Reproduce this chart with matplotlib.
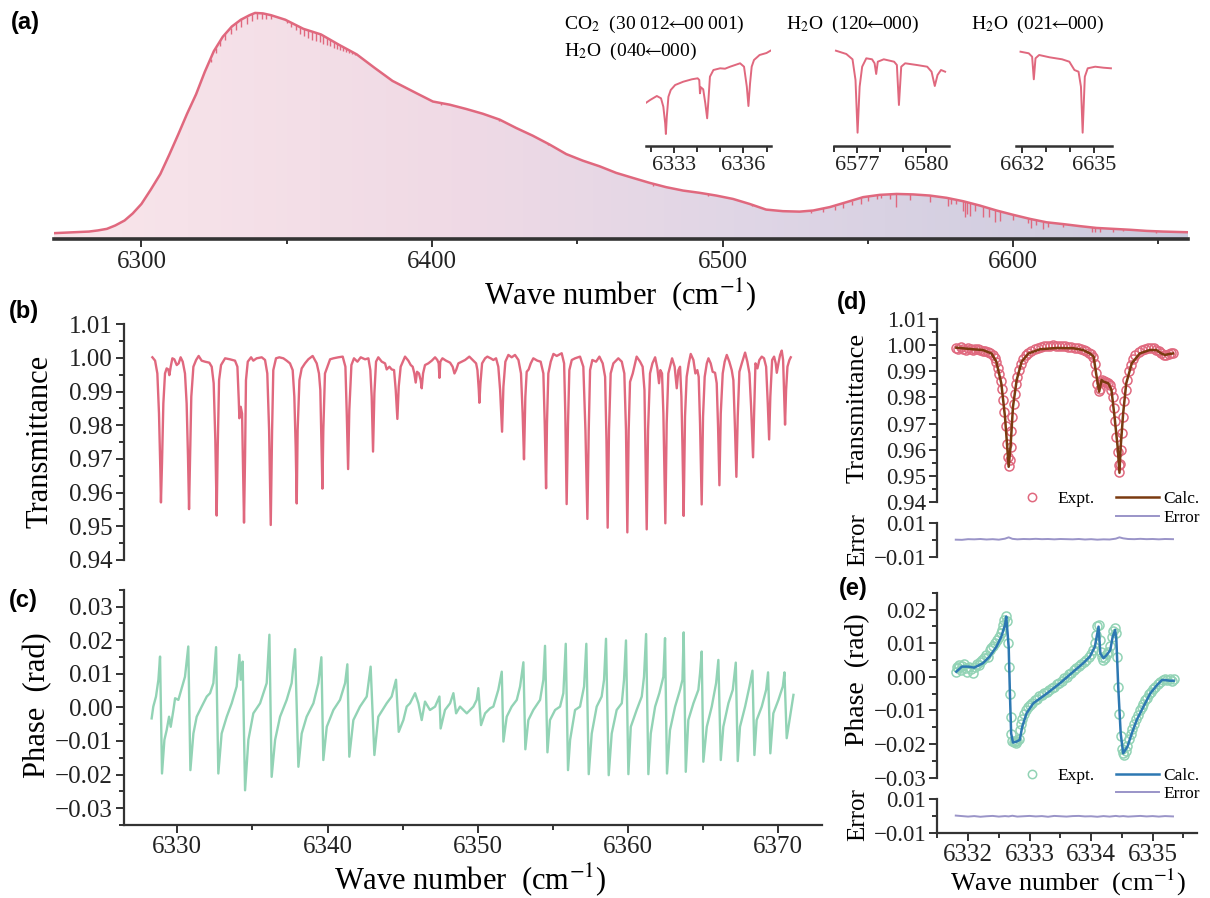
import numpy as np
import matplotlib
matplotlib.use('Agg')
import matplotlib.pyplot as plt
from matplotlib.colors import LinearSegmentedColormap
from matplotlib.ticker import MultipleLocator, FuncFormatter, FixedLocator
from matplotlib.lines import Line2D

plt.rcParams['font.family'] = ['Liberation Serif', 'DejaVu Serif']
plt.rcParams['mathtext.fontset'] = 'stix'

# ---------------- data : panel (a) envelope (arb. units) ----------------
a_env_nu = [6269.9, 6281.9, 6285.0, 6288.1, 6291.0, 6294.2, 6297.0, 6300.0, 6303.2, 6306.5,
            6309.6, 6312.7, 6315.7, 6318.8, 6321.8, 6324.9, 6328.0, 6331.1, 6334.2, 6337.2,
            6339.1, 6341.8, 6344.6, 6349.5, 6355.7, 6361.8, 6367.9, 6374.1, 6380.2, 6386.4,
            6394.6, 6400.3, 6406.1, 6411.8, 6417.5, 6423.3, 6429.0, 6434.7, 6440.5, 6446.2,
            6451.9, 6457.7, 6463.4, 6469.1, 6474.9, 6480.6, 6486.4, 6492.1, 6497.8, 6503.6,
            6509.3, 6515.0, 6520.8, 6526.5, 6531.2, 6536.9, 6542.7, 6548.4, 6554.1, 6559.9,
            6565.6, 6571.3, 6577.1, 6582.8, 6588.5, 6594.3, 6600.0, 6605.8, 6611.5, 6617.2,
            6623.0, 6628.7, 6634.4, 6640.2, 6645.9, 6651.6, 6660.2]
a_env = [0.028, 0.035, 0.040, 0.047, 0.062, 0.084, 0.115, 0.157, 0.220, 0.289,
         0.375, 0.465, 0.555, 0.641, 0.740, 0.831, 0.895, 0.940, 0.970, 0.990,
         1.000, 0.998, 0.990, 0.970, 0.930, 0.905, 0.860, 0.817, 0.758, 0.700,
         0.646, 0.609, 0.595, 0.576, 0.555, 0.529, 0.492, 0.458, 0.419, 0.377,
         0.348, 0.323, 0.294, 0.272, 0.250, 0.231, 0.216, 0.206, 0.194, 0.179,
         0.157, 0.132, 0.125, 0.123, 0.128, 0.143, 0.165, 0.187, 0.197, 0.201,
         0.199, 0.194, 0.184, 0.169, 0.150, 0.128, 0.109, 0.091, 0.076, 0.068,
         0.059, 0.051, 0.047, 0.043, 0.038, 0.035, 0.032]
a_line_nu = [6323.8, 6325.5, 6327.2, 6328.9, 6330.8, 6332.6, 6334.4, 6336.2, 6338.0, 6339.7,
             6341.4, 6343.0, 6344.7, 6350.1, 6351.6, 6353.1, 6354.6, 6355.9, 6357.3, 6358.7,
             6360.0, 6361.3, 6362.5, 6363.7, 6364.9, 6366.1, 6367.2, 6368.3, 6369.4, 6370.5,
             6371.5, 6372.5, 6373.5, 6403.0, 6423.0, 6440.0, 6476.0, 6495.0, 6510.0,
             6530.6, 6534.6, 6538.6, 6541.5, 6544.4, 6547.8, 6550.1, 6553.0, 6554.7, 6557.6,
             6559.6, 6564.5, 6571.3, 6577.6, 6578.8, 6580.5, 6582.6, 6583.4, 6584.2, 6585.1,
             6586.8, 6589.7, 6591.7, 6593.7, 6595.4, 6600.0, 6605.2, 6606.3, 6608.0, 6610.3,
             6612.1, 6617.2, 6627.0, 6628.1, 6629.8, 6634.4, 6637.9, 6649.3]
a_line_depth = [0.015, 0.020, 0.025, 0.028, 0.030, 0.032, 0.033, 0.033, 0.030, 0.027,
                0.024, 0.020, 0.016, 0.012, 0.018, 0.024, 0.028, 0.031, 0.034, 0.036,
                0.037, 0.036, 0.035, 0.033, 0.030, 0.027, 0.024, 0.020, 0.017, 0.014,
                0.011, 0.009, 0.007, 0.008, 0.008, 0.007, 0.008, 0.007, 0.008,
                0.012, 0.015, 0.018, 0.022, 0.018, 0.030, 0.022, 0.018, 0.015, 0.022,
                0.059, 0.026, 0.030, 0.037, 0.022, 0.018, 0.044, 0.066, 0.051, 0.059,
                0.030, 0.044, 0.037, 0.051, 0.044, 0.022, 0.022, 0.037, 0.022, 0.032,
                0.018, 0.012, 0.022, 0.018, 0.018, 0.015, 0.009, 0.009]

# insets (arb. units)
in1_nu = [6331.81, 6331.98, 6332.27, 6332.45, 6332.55, 6332.63, 6332.66, 6332.70, 6332.77, 6332.87,
          6333.06, 6333.41, 6333.78, 6334.03, 6334.10, 6334.13, 6334.17, 6334.27, 6334.36, 6334.44,
          6334.49, 6334.56, 6334.71, 6335.00, 6335.21, 6335.43, 6335.86, 6336.03, 6336.15, 6336.22,
          6336.29, 6336.36, 6336.46, 6336.70, 6337.00, 6337.17]
in1_s = [0.433, 0.460, 0.500, 0.477, 0.393, 0.227, 0.120, 0.293, 0.493, 0.560,
         0.610, 0.643, 0.667, 0.677, 0.660, 0.527, 0.587, 0.567, 0.427, 0.277,
         0.443, 0.693, 0.760, 0.777, 0.773, 0.793, 0.827, 0.793, 0.593, 0.400,
         0.627, 0.793, 0.860, 0.910, 0.930, 0.953]
in2_nu = [6576.08, 6576.53, 6576.80, 6576.93, 6577.02, 6577.11, 6577.22, 6577.40, 6577.65, 6577.76,
          6577.83, 6577.90, 6578.16, 6578.61, 6578.73, 6578.82, 6578.92, 6579.09, 6579.60, 6580.05,
          6580.24, 6580.38, 6580.50, 6580.65, 6580.83]
in2_s = [0.953, 0.920, 0.867, 0.660, 0.133, 0.593, 0.793, 0.877, 0.867, 0.827,
         0.720, 0.843, 0.867, 0.843, 0.810, 0.410, 0.793, 0.827, 0.810, 0.793,
         0.743, 0.600, 0.710, 0.760, 0.743]
in3_nu = [6631.95, 6632.29, 6632.43, 6632.50, 6632.57, 6632.72, 6633.15, 6633.67, 6633.97, 6634.18,
          6634.35, 6634.45, 6634.52, 6634.61, 6634.73, 6635.04, 6635.38, 6635.69]
in3_s = [0.943, 0.927, 0.893, 0.667, 0.877, 0.910, 0.887, 0.867, 0.843, 0.760,
         0.743, 0.593, 0.133, 0.693, 0.777, 0.793, 0.783, 0.777]
ARW = r'$\!\!\leftarrow\!\!$'
inset_titles = [r'CO$_2$  (30 012' + ARW + '00 001)', r'H$_2$O  (040' + ARW + '000)',
                r'H$_2$O  (120' + ARW + '000)', r'H$_2$O  (021' + ARW + '000)']

# ---------------- panel (b) transmittance ----------------
b_nu = [6328.34, 6328.52, 6328.67, 6328.78, 6328.87, 6328.91, 6328.98, 6329.07, 6329.18, 6329.29,
        6329.40, 6329.47, 6329.56, 6329.67, 6329.80, 6329.96, 6330.09, 6330.22, 6330.36, 6330.51,
        6330.62, 6330.71, 6330.78, 6330.85, 6330.93, 6331.07, 6331.25, 6331.42, 6331.62, 6331.84,
        6332.13, 6332.29, 6332.42, 6332.53, 6332.62, 6332.69, 6332.78, 6332.91, 6333.18, 6333.51,
        6333.84, 6334.00, 6334.09, 6334.13, 6334.22, 6334.31, 6334.37, 6334.44, 6334.51, 6334.57,
        6334.69, 6334.91, 6335.06, 6335.28, 6335.62, 6335.84, 6335.99, 6336.11, 6336.22, 6336.31,
        6336.39, 6336.57, 6336.79, 6337.06, 6337.28, 6337.50, 6337.68, 6337.79, 6337.88, 6337.95,
        6338.01, 6338.13, 6338.28, 6338.50, 6338.72, 6339.01, 6339.28, 6339.43, 6339.52, 6339.59,
        6339.66, 6339.72, 6339.83, 6339.99, 6340.17, 6340.39, 6340.72, 6341.01, 6341.19, 6341.28,
        6341.37, 6341.45, 6341.59, 6341.76, 6341.99, 6342.21, 6342.50, 6342.72, 6342.85, 6342.94,
        6343.03, 6343.12, 6343.23, 6343.38, 6343.61, 6343.83, 6343.94, 6344.12, 6344.27, 6344.43,
        6344.54, 6344.65, 6344.74, 6344.87, 6345.16, 6345.38, 6345.54, 6345.67, 6345.78, 6345.87,
        6345.96, 6346.09, 6346.20, 6346.27, 6346.36, 6346.49, 6346.71, 6346.94, 6347.16, 6347.31,
        6347.40, 6347.45, 6347.51, 6347.65, 6347.89, 6348.16, 6348.33, 6348.45, 6348.56, 6348.71,
        6348.93, 6349.16, 6349.44, 6349.67, 6349.89, 6349.98, 6350.07, 6350.11, 6350.18, 6350.29,
        6350.49, 6350.64, 6350.86, 6351.04, 6351.22, 6351.37, 6351.49, 6351.62, 6351.71, 6351.84,
        6352.04, 6352.26, 6352.48, 6352.71, 6352.88, 6352.99, 6353.08, 6353.17, 6353.26, 6353.39,
        6353.53, 6353.70, 6353.97, 6354.19, 6354.37, 6354.46, 6354.55, 6354.61, 6354.70, 6354.86,
        6355.04, 6355.26, 6355.59, 6355.75, 6355.83, 6355.92, 6356.01, 6356.10, 6356.26, 6356.48,
        6356.81, 6357.03, 6357.17, 6357.30, 6357.39, 6357.48, 6357.63, 6357.88, 6358.10, 6358.32,
        6358.48, 6358.57, 6358.65, 6358.74, 6358.85, 6359.03, 6359.36, 6359.59, 6359.76, 6359.87,
        6359.96, 6360.05, 6360.14, 6360.32, 6360.58, 6360.81, 6360.98, 6361.10, 6361.16, 6361.25,
        6361.34, 6361.47, 6361.63, 6361.81, 6361.96, 6362.07, 6362.16, 6362.27, 6362.36, 6362.49,
        6362.58, 6362.69, 6362.94, 6363.11, 6363.25, 6363.36, 6363.47, 6363.56, 6363.63, 6363.71,
        6363.80, 6363.91, 6364.05, 6364.18, 6364.36, 6364.49, 6364.62, 6364.71, 6364.80, 6364.91,
        6365.00, 6365.11, 6365.25, 6365.36, 6365.51, 6365.64, 6365.80, 6365.91, 6366.00, 6366.09,
        6366.18, 6366.31, 6366.44, 6366.58, 6366.75, 6366.91, 6367.02, 6367.13, 6367.22, 6367.31,
        6367.42, 6367.58, 6367.80, 6367.95, 6368.09, 6368.20, 6368.26, 6368.33, 6368.40, 6368.49,
        6368.62, 6368.75, 6368.91, 6369.06, 6369.20, 6369.31, 6369.40, 6369.48, 6369.60, 6369.73,
        6369.84, 6369.91, 6370.02, 6370.13, 6370.24, 6370.33, 6370.39, 6370.46, 6370.53, 6370.62,
        6370.75, 6370.84]
b_T = [1.0002, 0.9992, 0.9954, 0.9835, 0.9667, 0.9571, 0.9687, 0.9865, 0.9954, 0.9969,
       0.9966, 0.9949, 0.9974, 0.9999, 0.9996, 0.9979, 0.9984, 1.0002, 0.9989, 0.9954,
       0.9865, 0.9707, 0.9551, 0.9707, 0.9885, 0.9974, 0.9994, 1.0006, 0.9992, 0.9989,
       0.9986, 0.9974, 0.9925, 0.9756, 0.9532, 0.9736, 0.9934, 0.9979, 0.9999, 0.9996,
       0.9992, 0.9974, 0.9875, 0.9821, 0.9855, 0.9835, 0.9687, 0.9511, 0.9707, 0.9934,
       0.9989, 1.0002, 0.9992, 0.9999, 1.0002, 0.9994, 0.9954, 0.9786, 0.9504, 0.9786,
       0.9964, 0.9999, 1.0002, 0.9999, 0.9992, 0.9984, 0.9964, 0.9885, 0.9736, 0.9568,
       0.9786, 0.9934, 0.9969, 0.9984, 0.9996, 1.0006, 0.9984, 0.9954, 0.9905, 0.9756,
       0.9612, 0.9786, 0.9954, 0.9974, 0.9996, 0.9999, 1.0002, 1.0004, 0.9974, 0.9835,
       0.9670, 0.9845, 0.9979, 0.9999, 0.9989, 1.0002, 0.9996, 0.9999, 0.9964, 0.9885,
       0.9722, 0.9895, 0.9989, 1.0002, 0.9989, 0.9984, 0.9966, 0.9974, 0.9966, 0.9964,
       0.9905, 0.9819, 0.9915, 0.9974, 1.0004, 0.9992, 0.9979, 0.9974, 0.9954, 0.9927,
       0.9959, 0.9954, 0.9934, 0.9910, 0.9954, 0.9979, 0.9984, 0.9992, 1.0002, 0.9994,
       0.9984, 0.9941, 0.9989, 0.9999, 0.9992, 0.9986, 0.9974, 0.9954, 0.9964, 0.9984,
       0.9989, 0.9994, 1.0004, 0.9994, 0.9984, 0.9964, 0.9905, 0.9867, 0.9925, 0.9984,
       0.9999, 1.0004, 0.9999, 0.9994, 0.9999, 0.9974, 0.9905, 0.9781, 0.9915, 0.9989,
       1.0009, 1.0002, 1.0009, 0.9994, 0.9954, 0.9835, 0.9699, 0.9885, 0.9959, 0.9966,
       0.9984, 0.9999, 0.9992, 0.9989, 0.9954, 0.9806, 0.9613, 0.9806, 0.9954, 0.9989,
       1.0012, 1.0006, 1.0014, 0.9984, 0.9835, 0.9566, 0.9806, 0.9964, 0.9994, 0.9999,
       1.0004, 0.9974, 0.9786, 0.9522, 0.9786, 0.9964, 0.9994, 0.9989, 1.0004, 0.9984,
       0.9944, 0.9756, 0.9496, 0.9786, 0.9954, 0.9984, 0.9999, 0.9989, 0.9954, 0.9786,
       0.9482, 0.9786, 0.9929, 0.9954, 1.0004, 0.9989, 0.9974, 0.9905, 0.9736, 0.9491,
       0.9786, 0.9954, 0.9984, 1.0002, 0.9969, 0.9925, 0.9964, 0.9954, 0.9835, 0.9509,
       0.9806, 0.9954, 0.9999, 0.9974, 0.9910, 0.9964, 0.9974, 0.9885, 0.9736, 0.9531,
       0.9826, 0.9944, 0.9984, 1.0012, 0.9994, 0.9954, 0.9964, 0.9944, 0.9806, 0.9565,
       0.9826, 0.9944, 0.9984, 0.9999, 0.9984, 0.9959, 0.9956, 0.9925, 0.9796, 0.9622,
       0.9835, 0.9954, 0.9989, 1.0009, 0.9989, 0.9964, 0.9934, 0.9786, 0.9647, 0.9826,
       0.9959, 0.9984, 1.0016, 0.9989, 0.9954, 0.9855, 0.9786, 0.9705, 0.9835, 0.9984,
       0.9969, 0.9994, 1.0004, 0.9999, 0.9974, 0.9865, 0.9758, 0.9885, 0.9994, 1.0004,
       0.9984, 0.9956, 0.9984, 1.0009, 1.0022, 0.9994, 0.9905, 0.9802, 0.9905, 0.9974,
       0.9994, 1.0002]

# ---------------- panel (c) phase ----------------
c_nu = [6328.29, 6328.40, 6328.58, 6328.74, 6328.85, 6328.98, 6329.14, 6329.29, 6329.45, 6329.56,
        6329.74, 6329.85, 6330.07, 6330.29, 6330.51, 6330.73, 6330.87, 6331.07, 6331.29, 6331.62,
        6331.96, 6332.18, 6332.40, 6332.58, 6332.73, 6332.95, 6333.29, 6333.62, 6333.95, 6334.13,
        6334.22, 6334.35, 6334.51, 6334.73, 6335.06, 6335.51, 6335.95, 6336.13, 6336.28, 6336.51,
        6336.84, 6337.28, 6337.61, 6337.84, 6338.06, 6338.28, 6338.61, 6339.06, 6339.39, 6339.59,
        6339.72, 6339.95, 6340.39, 6340.83, 6341.17, 6341.32, 6341.45, 6341.72, 6342.16, 6342.61,
        6342.87, 6343.12, 6343.38, 6343.94, 6344.27, 6344.56, 6344.74, 6345.05, 6345.27, 6345.49,
        6345.83, 6346.05, 6346.27, 6346.49, 6346.82, 6347.16, 6347.45, 6347.53, 6347.82, 6348.16,
        6348.38, 6348.56, 6348.82, 6349.27, 6349.71, 6349.93, 6350.04, 6350.22, 6350.49, 6350.82,
        6351.04, 6351.37, 6351.60, 6351.71, 6351.93, 6352.26, 6352.60, 6352.82, 6353.04, 6353.17,
        6353.37, 6353.70, 6354.15, 6354.37, 6354.48, 6354.64, 6354.81, 6355.15, 6355.48, 6355.70,
        6355.86, 6356.01, 6356.15, 6356.48, 6356.81, 6357.08, 6357.23, 6357.39, 6357.59, 6357.92,
        6358.25, 6358.41, 6358.54, 6358.72, 6358.92, 6359.25, 6359.59, 6359.74, 6359.87, 6360.03,
        6360.19, 6360.58, 6360.92, 6361.07, 6361.21, 6361.36, 6361.52, 6361.81, 6362.09, 6362.36,
        6362.47, 6362.60, 6362.80, 6363.14, 6363.47, 6363.63, 6363.71, 6363.85, 6364.02, 6364.36,
        6364.69, 6364.80, 6364.91, 6365.02, 6365.25, 6365.58, 6365.87, 6366.02, 6366.18, 6366.35,
        6366.69, 6366.98, 6367.18, 6367.31, 6367.46, 6367.80, 6368.09, 6368.29, 6368.42, 6368.57,
        6368.91, 6369.20, 6369.33, 6369.48, 6369.68, 6370.02, 6370.31, 6370.42, 6370.57, 6370.79,
        6371.02]
c_phi = [-0.0033, 0.0002, 0.0032, 0.0082, 0.0151, -0.0197, -0.0097, -0.0068, -0.0028, -0.0058,
         -0.0008, 0.0027, 0.0022, 0.0057, 0.0091, 0.0181, -0.0187, -0.0078, -0.0028, 0.0002,
         0.0032, 0.0042, 0.0072, 0.0179, -0.0197, -0.0078, -0.0028, 0.0012, 0.0062, 0.0156,
         0.0082, 0.0136, -0.0247, -0.0097, -0.0018, 0.0012, 0.0072, 0.0216, -0.0207, -0.0097,
         -0.0028, 0.0022, 0.0072, 0.0173, -0.0177, -0.0078, -0.0028, 0.0012, 0.0072, 0.0149,
         -0.0157, -0.0058, -0.0008, 0.0022, 0.0072, 0.0128, -0.0147, -0.0038, 0.0002, 0.0032,
         0.0121, -0.0142, -0.0028, 0.0012, 0.0032, 0.0082, -0.0073, -0.0038, 0.0002, 0.0012,
         0.0042, 0.0012, -0.0038, 0.0017, -0.0008, 0.0002, 0.0032, -0.0063, -0.0008, 0.0012,
         0.0042, -0.0018, 0.0002, -0.0018, 0.0002, 0.0022, 0.0057, -0.0053, -0.0018, -0.0003,
         0.0002, 0.0052, 0.0106, -0.0102, -0.0028, 0.0002, 0.0022, 0.0062, 0.0134, -0.0125,
         -0.0038, -0.0008, 0.0022, 0.0082, 0.0183, -0.0134, -0.0038, -0.0008, 0.0002, 0.0042,
         0.0189, -0.0187, -0.0097, -0.0008, 0.0002, 0.0062, 0.0189, -0.0199, -0.0078, 0.0002,
         0.0032, 0.0082, 0.0204, -0.0202, -0.0078, -0.0008, 0.0012, 0.0082, 0.0199, -0.0199,
         -0.0058, -0.0008, 0.0032, 0.0091, 0.0218, -0.0199, -0.0078, 0.0002, 0.0042, 0.0091,
         0.0206, -0.0197, -0.0068, 0.0002, 0.0052, 0.0082, 0.0223, -0.0192, -0.0038, 0.0012,
         0.0052, 0.0101, 0.0166, -0.0162, -0.0058, 0.0002, 0.0072, 0.0141, -0.0157, -0.0058,
         0.0012, 0.0052, 0.0133, -0.0160, -0.0058, 0.0002, 0.0062, 0.0109, -0.0142, -0.0038,
         0.0002, 0.0052, 0.0104, -0.0137, -0.0018, 0.0022, 0.0062, 0.0104, -0.0092, -0.0028,
         0.0037]

# ---------------- panel (d) fit of transmittance ----------------
d_nu_expt = [6331.80, 6331.84, 6331.88, 6331.92, 6331.96, 6332.00, 6332.04, 6332.08, 6332.12, 6332.16,
             6332.20, 6332.24, 6332.28, 6332.32, 6332.36, 6332.40, 6332.43, 6332.46, 6332.49, 6332.51,
             6332.53, 6332.55, 6332.57, 6332.59, 6332.61, 6332.63, 6332.645, 6332.66, 6332.675, 6332.69,
             6332.705, 6332.72, 6332.74, 6332.76, 6332.78, 6332.80, 6332.83, 6332.86, 6332.90, 6332.94,
             6332.98, 6333.03, 6333.08, 6333.13, 6333.18, 6333.23, 6333.28, 6333.33, 6333.38, 6333.43,
             6333.48, 6333.53, 6333.58, 6333.63, 6333.68, 6333.73, 6333.78, 6333.83, 6333.88, 6333.92,
             6333.96, 6334.00, 6334.03, 6334.06, 6334.08, 6334.10, 6334.12, 6334.14, 6334.16, 6334.18,
             6334.21, 6334.24, 6334.27, 6334.30, 6334.33, 6334.35, 6334.37, 6334.39, 6334.41, 6334.43,
             6334.445, 6334.46, 6334.475, 6334.49, 6334.505, 6334.52, 6334.54, 6334.56, 6334.58, 6334.61,
             6334.64, 6334.68, 6334.72, 6334.77, 6334.82, 6334.87, 6334.92, 6334.97, 6335.02, 6335.06,
             6335.10, 6335.14, 6335.18, 6335.22, 6335.26, 6335.30, 6335.33]
d_T_expt = [0.9990, 0.9985, 0.9992, 0.9987, 0.9984, 0.9988, 0.9986, 0.9984, 0.9987, 0.9985,
            0.9983, 0.9980, 0.9978, 0.9975, 0.9970, 0.9962, 0.9950, 0.9935, 0.9912, 0.9890,
            0.9865, 0.9832, 0.9790, 0.9745, 0.9690, 0.9620, 0.9570, 0.9538, 0.9560, 0.9610,
            0.9670, 0.9725, 0.9775, 0.9815, 0.9850, 0.9878, 0.9905, 0.9928, 0.9948, 0.9962,
            0.9972, 0.9980, 0.9986, 0.9990, 0.9993, 0.9996, 0.9997, 0.9999, 1.0000, 0.9998,
            0.9999, 0.9997, 0.9996, 0.9995, 0.9993, 0.9990, 0.9988, 0.9985, 0.9981, 0.9977,
            0.9972, 0.9965, 0.9955, 0.9930, 0.9895, 0.9852, 0.9825, 0.9832, 0.9860, 0.9868,
            0.9862, 0.9858, 0.9855, 0.9848, 0.9830, 0.9800, 0.9760, 0.9710, 0.9650, 0.9590,
            0.9540, 0.9515, 0.9545, 0.9600, 0.9665, 0.9725, 0.9785, 0.9830, 0.9868, 0.9900,
            0.9925, 0.9948, 0.9962, 0.9974, 0.9981, 0.9986, 0.9989, 0.9990, 0.9988, 0.9984,
            0.9978, 0.9970, 0.9963, 0.9962, 0.9966, 0.9970, 0.9971]
d_nu_calc = [6331.81, 6332.08, 6332.24, 6332.38, 6332.46, 6332.54, 6332.60, 6332.64, 6332.66, 6332.69,
             6332.73, 6332.79, 6332.87, 6332.98, 6333.17, 6333.44, 6333.71, 6333.87, 6333.98, 6334.04,
             6334.08, 6334.13, 6334.17, 6334.20, 6334.28, 6334.33, 6334.38, 6334.43, 6334.46, 6334.48,
             6334.52, 6334.57, 6334.66, 6334.79, 6334.95, 6335.06, 6335.14, 6335.20, 6335.25, 6335.33]
d_T_calc = [0.9991, 0.9985, 0.9982, 0.9969, 0.9937, 0.9854, 0.9726, 0.9598, 0.9534, 0.9611,
            0.9765, 0.9867, 0.9937, 0.9969, 0.9985, 0.9990, 0.9989, 0.9982, 0.9969, 0.9957,
            0.9893, 0.9822, 0.9867, 0.9861, 0.9854, 0.9829, 0.9726, 0.9611, 0.9511, 0.9611,
            0.9739, 0.9854, 0.9931, 0.9969, 0.9982, 0.9982, 0.9969, 0.9963, 0.9966, 0.9969]
err_nu = [6331.80, 6331.90, 6332.00, 6332.10, 6332.20, 6332.30, 6332.40, 6332.50, 6332.60, 6332.66,
          6332.72, 6332.80, 6332.90, 6333.00, 6333.10, 6333.20, 6333.30, 6333.40, 6333.50, 6333.60,
          6333.70, 6333.80, 6333.90, 6334.00, 6334.10, 6334.20, 6334.30, 6334.40, 6334.46, 6334.52,
          6334.60, 6334.70, 6334.80, 6334.90, 6335.00, 6335.10, 6335.20, 6335.33]
d_err = [0.0002, 0.0001, 0.0005, 0.0004, 0.0006, 0.0003, 0.0005, 0.0002, 0.0008, 0.0016,
         0.0007, 0.0004, 0.0006, 0.0005, 0.0007, 0.0005, 0.0006, 0.0004, 0.0006, 0.0005,
         0.0004, 0.0006, 0.0003, 0.0005, 0.0002, 0.0004, 0.0003, 0.0008, 0.0016, 0.0010,
         0.0006, 0.0005, 0.0007, 0.0005, 0.0006, 0.0004, 0.0006, 0.0005]

# ---------------- panel (e) fit of phase ----------------
e_nu_expt = [6331.80, 6331.82, 6331.84, 6331.86, 6331.88, 6331.90, 6331.93, 6331.96, 6331.99, 6332.02,
             6332.05, 6332.08, 6332.11, 6332.14, 6332.17, 6332.20, 6332.23, 6332.26, 6332.29, 6332.32,
             6332.35, 6332.38, 6332.41, 6332.44, 6332.47, 6332.50, 6332.53, 6332.55, 6332.57, 6332.59,
             6332.61, 6332.63, 6332.645, 6332.66, 6332.675, 6332.69, 6332.705, 6332.72, 6332.74, 6332.76,
             6332.78, 6332.80, 6332.82, 6332.84, 6332.86, 6332.88, 6332.91, 6332.94, 6332.97, 6333.00,
             6333.04, 6333.08, 6333.12, 6333.16, 6333.20, 6333.24, 6333.28, 6333.32, 6333.36, 6333.40,
             6333.44, 6333.48, 6333.52, 6333.56, 6333.60, 6333.64, 6333.68, 6333.72, 6333.76, 6333.80,
             6333.84, 6333.88, 6333.92, 6333.96, 6334.00, 6334.03, 6334.06, 6334.08, 6334.10, 6334.12,
             6334.14, 6334.16, 6334.18, 6334.20, 6334.22, 6334.25, 6334.28, 6334.31, 6334.34, 6334.36,
             6334.38, 6334.40, 6334.42, 6334.44, 6334.46, 6334.48, 6334.50, 6334.52, 6334.54, 6334.56,
             6334.58, 6334.61, 6334.64, 6334.67, 6334.70, 6334.73, 6334.76, 6334.79, 6334.82, 6334.85,
             6334.88, 6334.91, 6334.94, 6334.97, 6335.00, 6335.04, 6335.08, 6335.12, 6335.16, 6335.20,
             6335.24, 6335.28, 6335.32, 6335.35]
e_phi_expt = [0.0015, 0.0030, 0.0025, 0.0035, 0.0020, 0.0032, 0.0038, 0.0025, 0.0015, 0.0030,
              0.0022, 0.0012, 0.0030, 0.0038, 0.0035, 0.0045, 0.0050, 0.0055, 0.0065, 0.0060,
              0.0078, 0.0085, 0.0090, 0.0100, 0.0108, 0.0118, 0.0130, 0.0140, 0.0155, 0.0168,
              0.0182, 0.0165, 0.0100, 0.0030, -0.0050, -0.0120, -0.0170, -0.0190, -0.0195, -0.0192,
              -0.0198, -0.0190, -0.0185, -0.0160, -0.0140, -0.0125, -0.0110, -0.0100, -0.0090, -0.0085,
              -0.0078, -0.0070, -0.0065, -0.0058, -0.0055, -0.0048, -0.0045, -0.0040, -0.0035, -0.0030,
              -0.0022, -0.0018, -0.0012, -0.0005, 0.0000, 0.0008, 0.0012, 0.0020, 0.0025, 0.0032,
              0.0038, 0.0045, 0.0050, 0.0058, 0.0068, 0.0080, 0.0100, 0.0125, 0.0150, 0.0155,
              0.0110, 0.0075, 0.0058, 0.0050, 0.0055, 0.0068, 0.0075, 0.0090, 0.0118, 0.0135,
              0.0145, 0.0130, 0.0060, -0.0030, -0.0110, -0.0175, -0.0215, -0.0228, -0.0232, -0.0222,
              -0.0205, -0.0185, -0.0170, -0.0155, -0.0140, -0.0125, -0.0115, -0.0100, -0.0090, -0.0080,
              -0.0070, -0.0062, -0.0052, -0.0045, -0.0038, -0.0030, -0.0022, -0.0015, -0.0010, -0.0006,
              -0.0010, -0.0008, -0.0012, -0.0008]
e_nu_calc = [6331.81, 6331.90, 6332.00, 6332.10, 6332.24, 6332.35, 6332.46, 6332.54, 6332.60, 6332.62,
             6332.66, 6332.68, 6332.70, 6332.73, 6332.79, 6332.84, 6332.88, 6332.95, 6333.06, 6333.28,
             6333.49, 6333.71, 6333.87, 6333.98, 6334.06, 6334.12, 6334.15, 6334.20, 6334.25, 6334.31,
             6334.35, 6334.39, 6334.41, 6334.44, 6334.48, 6334.52, 6334.59, 6334.66, 6334.74, 6334.85,
             6334.96, 6335.07, 6335.15, 6335.20, 6335.28, 6335.34]
e_phi_calc = [0.0015, 0.0030, 0.0030, 0.0027, 0.0040, 0.0060, 0.0089, 0.0119, 0.0154, 0.0179,
              0.0089, -0.0050, -0.0169, -0.0196, -0.0193, -0.0188, -0.0149, -0.0109, -0.0079, -0.0050,
              -0.0020, 0.0015, 0.0040, 0.0060, 0.0089, 0.0149, 0.0069, 0.0055, 0.0064, 0.0079,
              0.0119, 0.0139, 0.0109, -0.0030, -0.0169, -0.0228, -0.0208, -0.0169, -0.0129, -0.0089,
              -0.0050, -0.0025, -0.0010, -0.0010, -0.0012, -0.0012]
e_err = [0.0004, 0.0001, -0.0002, 0.0001, -0.0003, 0.0000, 0.0002, -0.0002, 0.0001, -0.0001,
         0.0003, -0.0002, 0.0000, 0.0002, -0.0001, 0.0001, -0.0003, 0.0002, 0.0000, -0.0002,
         0.0001, 0.0002, -0.0001, 0.0000, -0.0003, 0.0001, -0.0002, 0.0002, -0.0001, 0.0001,
         -0.0002, 0.0000, 0.0002, -0.0001, 0.0001, -0.0002, 0.0001, -0.0001]

legend_labels = ['Expt.', 'Calc.', 'Error']

# ---------------- styles ----------------
PINK = '#e0687e'
GREEN = '#92d3b5'
BROWN = '#7a3a10'
BLUE = '#2d78b2'
LAV = '#9a94c8'
AX = '#333333'
W, H = 1210, 898


def box(left, top, right, bottom):
    return [left / W, 1 - bottom / H, (right - left) / W, (bottom - top) / H]


def fmt2(v, pos):
    s = f'{v:.2f}'
    if s == '-0.00':
        s = '0.00'
    return s.replace('-', '\u2212')


def style(ax, bottom=False, left=True, lsize=18):
    for s in ['top', 'right']:
        ax.spines[s].set_visible(False)
    ax.spines['bottom'].set_visible(bottom)
    ax.spines['left'].set_visible(left)
    for s in ax.spines.values():
        s.set_color(AX)
        s.set_linewidth(1.6)
    ax.tick_params(which='both', direction='out', color=AX, width=1.4,
                   labelsize=lsize, labelcolor='#222222', pad=2)
    ax.tick_params(which='major', length=6)
    ax.tick_params(which='minor', length=3.5)
    if not bottom:
        ax.tick_params(axis='x', which='both', bottom=False, labelbottom=False)
    if not left:
        ax.tick_params(axis='y', which='both', left=False, labelleft=False)
    ax.patch.set_alpha(0)


fig = plt.figure(figsize=(W / 100, H / 100), dpi=100)

# ---------------- (a) ----------------
axa = fig.add_axes(box(54, 5, 1188, 239.5))
axa.set_xlim(6269.9, 6660.2)
axa.set_ylim(0, 1.035)
style(axa, bottom=True, left=False, lsize=18)
axa.spines['bottom'].set_linewidth(2.6)
axa.xaxis.set_major_locator(MultipleLocator(100))
axa.xaxis.set_minor_locator(MultipleLocator(50))
poly = axa.fill_between(a_env_nu, 0, a_env, color='none', lw=0)
cmap = LinearSegmentedColormap.from_list(
    'env', [(0, '#f9e6eb'), (0.35, '#f0dae5'), (0.6, '#e0d6e6'), (1, '#cbcadd')])
img = axa.imshow(np.linspace(0, 1, 512).reshape(1, -1), extent=[6269.9, 6660.2, 0, 1.035],
                 aspect='auto', cmap=cmap, interpolation='bicubic', zorder=1)
img.set_clip_path(poly.get_paths()[0], transform=axa.transData)
axa.plot(a_env_nu, a_env, color=PINK, lw=1.8, zorder=3)
tops = np.interp(a_line_nu, a_env_nu, a_env)
axa.vlines(a_line_nu, tops - np.array(a_line_depth), tops, color=PINK, lw=1.0, zorder=3)
fig.text(620 / W, 1 - 295 / H, 'Wave number  (cm$^{-1}$)', fontsize=22, ha='center', va='center')

# insets
inset_specs = [((645.7, 40, 770.7, 146), in1_nu, in1_s, (6331.79, 6337.18), [6333, 6336]),
               ((833.9, 40, 948.8, 146), in2_nu, in2_s, (6575.99, 6580.99), [6577, 6580]),
               ((1016.4, 40, 1111.9, 146), in3_nu, in3_s, (6631.78, 6635.73), [6632, 6635])]
for bx, xs, ys, xl, maj in inset_specs:
    axi = fig.add_axes(box(*bx))
    axi.plot(xs, ys, color=PINK, lw=1.4)
    axi.set_xlim(*xl)
    axi.set_ylim(0, 1.06)
    style(axi, bottom=True, left=False, lsize=16)
    axi.spines['bottom'].set_linewidth(1.8)
    axi.xaxis.set_major_locator(FixedLocator(maj))
    axi.xaxis.set_minor_locator(MultipleLocator(1))
    axi.tick_params(which='major', length=5)
    axi.tick_params(which='minor', length=4)
fig.text(564 / W, 1 - 24 / H, inset_titles[0], fontsize=14, va='center')
fig.text(564 / W, 1 - 51 / H, inset_titles[1], fontsize=14, va='center')
fig.text(786 / W, 1 - 24 / H, inset_titles[2], fontsize=14, va='center')
fig.text(971 / W, 1 - 24 / H, inset_titles[3], fontsize=14, va='center')

# ---------------- (b) ----------------
XL = (6326.45, 6372.92)
axb = fig.add_axes(box(124, 324.3, 822, 560))
axb.plot(b_nu, b_T, color=PINK, lw=1.7)
axb.set_xlim(*XL)
axb.set_ylim(0.94, 1.01)
style(axb)
axb.yaxis.set_major_locator(MultipleLocator(0.01))
axb.yaxis.set_minor_locator(MultipleLocator(0.005))
axb.yaxis.set_major_formatter(FuncFormatter(fmt2))
fig.text(40 / W, 1 - 441 / H, 'Transmittance', fontsize=22, rotation=90, ha='center', va='center')

# ---------------- (c) ----------------
axc = fig.add_axes(box(124, 589.7, 822, 824.9))
axc.plot(c_nu, c_phi, color=GREEN, lw=1.7)
axc.set_xlim(*XL)
axc.set_ylim(-0.035, 0.035)
style(axc, bottom=True)
axc.yaxis.set_major_locator(MultipleLocator(0.01))
axc.yaxis.set_minor_locator(MultipleLocator(0.005))
axc.yaxis.set_major_formatter(FuncFormatter(fmt2))
axc.xaxis.set_major_locator(MultipleLocator(10))
axc.xaxis.set_minor_locator(MultipleLocator(5))
fig.text(38 / W, 1 - 705 / H, 'Phase  (rad)', fontsize=22, rotation=90, ha='center', va='center')
fig.text(470 / W, 1 - 880 / H, 'Wave number  (cm$^{-1}$)', fontsize=22, ha='center', va='center')

# ---------------- (d) ----------------
XR = (6331.5, 6335.72)
RS = 16.5
axd = fig.add_axes(box(937.3, 319.3, 1197, 501.7))
axd.plot(d_nu_expt, d_T_expt, 'o', ms=6.5, mfc='none', mec=PINK, mew=1.1, zorder=2)
axd.plot(d_nu_calc, d_T_calc, color=BROWN, lw=1.8, zorder=3)
axd.set_xlim(*XR)
axd.set_ylim(0.94, 1.01)
style(axd, lsize=RS)
axd.yaxis.set_major_locator(MultipleLocator(0.01))
axd.yaxis.set_minor_locator(MultipleLocator(0.005))
axd.yaxis.set_major_formatter(FuncFormatter(fmt2))

axde = fig.add_axes(box(937.3, 523.3, 1197, 556.7))
axde.plot(err_nu, d_err, color=LAV, lw=1.4)
axde.set_xlim(*XR)
axde.set_ylim(-0.01, 0.01)
style(axde, lsize=RS)
axde.yaxis.set_major_locator(FixedLocator([-0.01, 0.01]))
axde.yaxis.set_minor_locator(FixedLocator([0.0]))
axde.yaxis.set_major_formatter(FuncFormatter(fmt2))
fig.text(858 / W, 1 - 408 / H, 'Transmittance', fontsize=19, rotation=90, ha='center', va='center')
fig.text(858 / W, 1 - 540 / H, 'Error', fontsize=18, rotation=90, ha='center', va='center')

hd = [Line2D([], [], ls='none', marker='o', ms=6, mfc='none', mec=PINK, mew=1.1),
      Line2D([], [], ls='none'),
      Line2D([], [], color=BROWN, lw=1.8),
      Line2D([], [], color=LAV, lw=1.4)]
fig.legend(hd, [legend_labels[0], ' ', legend_labels[1], legend_labels[2]], ncol=2,
           loc='center left', bbox_to_anchor=(1010 / W, 1 - 508.3 / H), frameon=False,
           borderpad=0, borderaxespad=0, handlelength=2.5, handletextpad=0.25,
           columnspacing=1.2, labelspacing=0.15, fontsize=12.5)

# ---------------- (e) ----------------
axe = fig.add_axes(box(937.3, 592.7, 1197, 777.5))
axe.plot(e_nu_expt, e_phi_expt, 'o', ms=6.5, mfc='none', mec=GREEN, mew=1.1, zorder=2)
axe.plot(e_nu_calc, e_phi_calc, color=BLUE, lw=1.8, zorder=3)
axe.set_xlim(*XR)
axe.set_ylim(-0.03, 0.025)
style(axe, lsize=RS)
axe.yaxis.set_major_locator(MultipleLocator(0.01))
axe.yaxis.set_minor_locator(MultipleLocator(0.005))
axe.yaxis.set_major_formatter(FuncFormatter(fmt2))

axee = fig.add_axes(box(937.3, 799.3, 1197, 833.2))
axee.plot(err_nu, e_err, color=LAV, lw=1.4)
axee.set_xlim(*XR)
axee.set_ylim(-0.01, 0.01)
style(axee, bottom=True, lsize=RS)
axee.tick_params(axis='x', labelsize=18)
axee.yaxis.set_major_locator(FixedLocator([-0.01, 0.01]))
axee.yaxis.set_minor_locator(FixedLocator([0.0]))
axee.yaxis.set_major_formatter(FuncFormatter(fmt2))
axee.xaxis.set_major_locator(MultipleLocator(1))
axee.xaxis.set_minor_locator(MultipleLocator(0.5))
fig.text(858 / W, 1 - 680 / H, 'Phase  (rad)', fontsize=20, rotation=90, ha='center', va='center')
fig.text(858 / W, 1 - 815 / H, 'Error', fontsize=18, rotation=90, ha='center', va='center')
fig.text(1068 / W, 1 - 882 / H, 'Wave number  (cm$^{-1}$)', fontsize=19, ha='center', va='center')

he = [Line2D([], [], ls='none', marker='o', ms=6, mfc='none', mec=GREEN, mew=1.1),
      Line2D([], [], ls='none'),
      Line2D([], [], color=BLUE, lw=1.8),
      Line2D([], [], color=LAV, lw=1.4)]
fig.legend(he, [legend_labels[0], ' ', legend_labels[1], legend_labels[2]], ncol=2,
           loc='center left', bbox_to_anchor=(1010 / W, 1 - 785 / H), frameon=False,
           borderpad=0, borderaxespad=0, handlelength=2.5, handletextpad=0.25,
           columnspacing=1.2, labelspacing=0.15, fontsize=12.5)

# panel letters
for lab, px, py in [('(a)', 11, 23), ('(b)', 9, 311), ('(c)', 9, 600),
                    ('(d)', 837, 302), ('(e)', 839, 589)]:
    fig.text(px / W, 1 - py / H, lab, fontsize=17, fontweight='bold',
             family=['Liberation Sans', 'DejaVu Sans'], ha='left', va='center')

fig.savefig('out.png', dpi=100)
